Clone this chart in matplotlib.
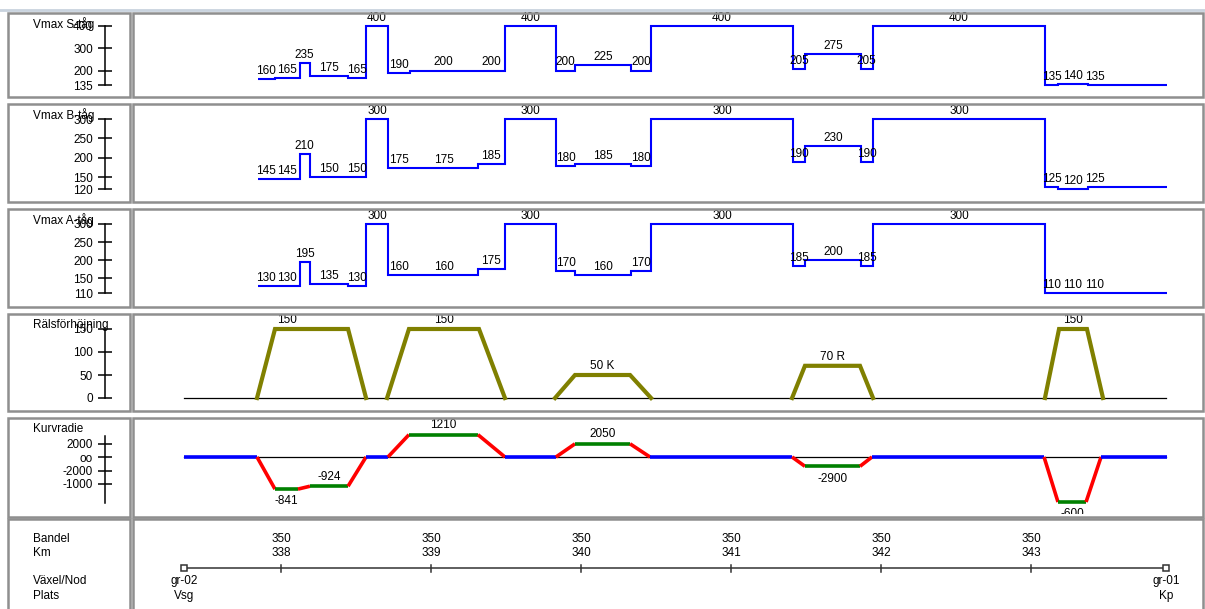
import matplotlib
matplotlib.use('Agg')
import matplotlib.pyplot as plt
from matplotlib.patches import Rectangle
from matplotlib.lines import Line2D

plt.rcParams['font.family'] = ['Liberation Sans', 'DejaVu Sans']
FS = 8.5

# --- speed profile: section boundaries along the line (km) and Vmax per section
# the last section is the run-out towards Kp and carries no label
speed_km = [337.845, 337.96, 338.125, 338.19, 338.445, 338.565, 338.715, 338.86,
            339.31, 339.495, 339.835, 339.96, 340.335, 340.465, 341.415, 341.495,
            341.865, 341.945, 343.095, 343.18, 343.38, 343.467, 343.905]
vmax_s = [160, 165, 235, 175, 165, 400, 190, 200, 200, 400, 200, 225, 200, 400,
          205, 275, 205, 400, 135, 140, 135, 135]
vmax_b = [145, 145, 210, 150, 150, 300, 175, 175, 185, 300, 180, 185, 180, 300,
          190, 230, 190, 300, 125, 120, 125, 125]
vmax_a = [130, 130, 195, 135, 130, 300, 160, 160, 175, 300, 170, 160, 170, 300,
          185, 200, 185, 300, 110, 110, 110, 110]

# --- cant (rälsförhöjning): ramp start, full cant start, full cant end, ramp end
cant_km = [(337.84, 337.96, 338.447, 338.567),
           (338.707, 338.853, 339.32, 339.493),
           (339.827, 339.96, 340.327, 340.467),
           (341.407, 341.493, 341.86, 341.947),
           (343.093, 343.187, 343.373, 343.48)]
cant_mm = [150, 150, 50, 70, 150]
cant_text = ['150', '150', '50 K', '70 R', '150']
cant_text_km = [338.04, 339.087, 340.143, 341.677, 343.28]

# --- curve radius, 0 = straight track (oo)
curve_km = [337.353, 337.84, 337.96, 338.113, 338.193, 338.447, 338.567, 338.713,
            338.853, 339.313, 339.493, 339.833, 339.96, 340.327, 340.46, 341.407,
            341.493, 341.86, 341.94, 343.087, 343.18, 343.367, 343.467, 343.907]
curve_radius = [0, 0, -841, -841, -924, -924, 0, 0, 1210, 1210, 0, 0, 2050, 2050,
                0, 0, -2900, -2900, 0, 0, -600, -600, 0, 0]
curve_text_side = ['below', 'above', 'above', 'above', 'below', 'below']

# --- track line
km_posts = [338, 339, 340, 341, 342, 343]
bandel = '350'
track_ends_km = [337.353, 343.9]
node_ids = ['gr-02', 'gr-01']
places = ['Vsg', 'Kp']

W, H = 1205, 609
fig = plt.figure(figsize=(W / 100, H / 100), dpi=100)
fig.patch.set_facecolor('white')


def frac_rect(x0, y0, x1, y1):
    return [x0 / W, 1 - y1 / H, (x1 - x0) / W, (y1 - y0) / H]


def km_at(px):
    return 338 + (px - 281) / 150.0


def lims(top, bot, v1, p1, v2, p2):
    k = (v2 - v1) / (p2 - p1)
    return v1 + (bot - p1) * k, v1 + (top - p1) * k


LX0, LX1, RX0, RX1 = 8, 130, 133, 1203
rows = [(13, 97), (104, 202), (209, 307), (314, 411), (418, 517), (519, 612)]
titles = ['Vmax S-tåg', 'Vmax B-tåg', 'Vmax A-tåg', 'Rälsförhöjning', 'Kurvradie']

fig.add_artist(Line2D([0, 1], [1 - 10 / H] * 2, color='#c9d3de', lw=2))


def data_axes(row, ylim):
    top, bot = row
    ax = fig.add_axes(frac_rect(RX0, top, RX1, bot))
    ax.set_xlim(km_at(RX0), km_at(RX1))
    ax.set_ylim(*ylim)
    ax.axis('off')
    return ax


def scale_axes(row, ylim, ticks, labels, bounds):
    top, bot = row
    sax = fig.add_axes(frac_rect(105, top, 106, bot))
    sax.set_ylim(*ylim)
    sax.patch.set_visible(False)
    for s in ['top', 'right', 'bottom']:
        sax.spines[s].set_visible(False)
    sax.spines['left'].set_bounds(*bounds)
    sax.spines['left'].set_linewidth(1.1)
    sax.set_xticks([])
    sax.set_yticks(ticks)
    sax.set_yticklabels(labels)
    sax.tick_params(axis='y', direction='inout', length=10, width=1.1,
                    pad=3.6, labelsize=FS)
    return sax


for i, (top, bot) in enumerate(rows):
    for x0, x1 in [(LX0, LX1), (RX0, RX1)]:
        fig.add_artist(Rectangle((x0 / W, 1 - bot / H), (x1 - x0) / W, (bot - top) / H,
                                 transform=fig.transFigure, fill=False,
                                 edgecolor='#8f8f8f', lw=1.8, zorder=10))
    if i < len(titles):
        fig.text(33 / W, 1 - (top + 11) / H, titles[i], fontsize=FS,
                 ha='left', va='center')

# speed panels
speed_sets = [
    (vmax_s, (400, 26, 135, 85), [400, 300, 200, 135]),
    (vmax_b, (300, 119, 120, 189), [300, 250, 200, 150, 120]),
    (vmax_a, (300, 224, 110, 293), [300, 250, 200, 150, 110]),
]
for i, (vals, (v1, p1, v2, p2), ticks) in enumerate(speed_sets):
    row = rows[i]
    yl = lims(row[0], row[1], v1, p1, v2, p2)
    ax = data_axes(row, yl)
    ax.stairs(vals, speed_km, baseline=None, color='#0000ff', lw=1.5)
    for k in range(len(vals) - 1):
        mid = (speed_km[k] + speed_km[k + 1]) / 2
        ax.annotate(str(vals[k]), (mid, vals[k]), xytext=(0, 1.5),
                    textcoords='offset points', ha='center', va='bottom',
                    fontsize=FS)
    scale_axes(row, yl, ticks, [str(t) for t in ticks], (max(ticks), min(ticks)))

# cant panel
row = rows[3]
yl = lims(row[0], row[1], 150, 329, 0, 398)
ax = data_axes(row, yl)
ax.plot(track_ends_km, [0, 0], color='black', lw=0.9, zorder=1)
for (x0, x1, x2, x3), v in zip(cant_km, cant_mm):
    ax.plot([x0, x1, x2, x3], [0, v, v, 0], color='#808000', lw=3,
            solid_joinstyle='miter', zorder=2)
for xt, v, t in zip(cant_text_km, cant_mm, cant_text):
    ax.annotate(t, (xt, v), xytext=(0, 2), textcoords='offset points',
                ha='center', va='bottom', fontsize=FS)
scale_axes(row, yl, [150, 100, 50, 0], ['150', '100', '50', '0'], (150, 0))

# curve radius panel, drawn as 1000/R; plot area ends a little above the frame
row = rows[4]
yl = lims(row[0], row[1] - 3, 0, 457, -1, 484)
ax = data_axes((row[0], row[1] - 3), yl)
curv = [1000.0 / r if r else 0.0 for r in curve_radius]
ax.plot(track_ends_km, [0, 0], color='black', lw=0.9, zorder=1)
labels_done = 0
for k in range(len(curve_km) - 1):
    a, b = curve_radius[k], curve_radius[k + 1]
    if a == b == 0:
        col = '#0000ff'
    elif a == b:
        col = '#008000'
    else:
        col = '#ff0000'
    ax.plot(curve_km[k:k + 2], curv[k:k + 2], color=col, lw=2.6,
            solid_capstyle='butt', zorder=2)
    if a == b != 0:
        mid = (curve_km[k] + curve_km[k + 1]) / 2
        side = curve_text_side[labels_done]
        labels_done += 1
        if side == 'above':
            ax.annotate(str(a), (mid, curv[k]), xytext=(0, 2.5),
                        textcoords='offset points', ha='center', va='bottom',
                        fontsize=FS, annotation_clip=False, clip_on=True)
        else:
            ax.annotate(str(a), (mid, curv[k]), xytext=(0, -4.5),
                        textcoords='offset points', ha='center', va='top',
                        fontsize=FS, annotation_clip=False, clip_on=True)
scale_axes(row, yl_full := lims(row[0], row[1], 0, 457, -1, 484),
           [0.5, 0, -0.5, -1], ['2000', 'oo', '-2000', '-1000'], (0.78, -1.7))

# track / km panel
row = rows[5]
ax = data_axes(row, (row[1], row[0]))
ax.plot(track_ends_km, [568, 568], color='#333333', lw=1.1)
for k in km_posts:
    ax.plot([k, k], [564.5, 571.5], color='#333333', lw=1.1)
    ax.text(k, 539, bandel, ha='center', va='center', fontsize=FS)
    ax.text(k, 553, str(k), ha='center', va='center', fontsize=FS)
ax.plot(track_ends_km, [568, 568], ls='none', marker='s', ms=4.5,
        mfc='white', mec='#333333', mew=1.1)
for k, n, p in zip(track_ends_km, node_ids, places):
    ax.text(k, 581, n, ha='center', va='center', fontsize=FS)
    ax.text(k, 596, p, ha='center', va='center', fontsize=FS)
for t, y in [('Bandel', 539), ('Km', 553), ('Växel/Nod', 581), ('Plats', 596)]:
    fig.text(33 / W, 1 - y / H, t, fontsize=FS, ha='left', va='center')

fig.savefig('out.png', dpi=100)
